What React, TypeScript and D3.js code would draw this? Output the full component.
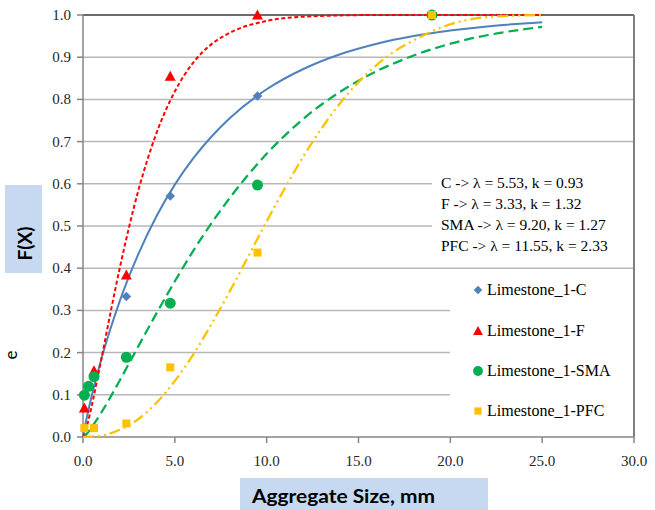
import React from 'react';
import * as d3 from 'd3';

// ---------- data ----------
const xTickValues = [0, 5, 10, 15, 20, 25, 30];
const yTickValues = [0, 0.1, 0.2, 0.3, 0.4, 0.5, 0.6, 0.7, 0.8, 0.9, 1.0];

const seriesNames = ['Limestone_1-C', 'Limestone_1-F', 'Limestone_1-SMA', 'Limestone_1-PFC'];
const fitLabels = [
  'C -> λ = 5.53, k = 0.93',
  'F -> λ = 3.33, k = 1.32',
  'SMA -> λ = 9.20, k = 1.27',
  'PFC -> λ = 11.55, k = 2.33',
];

// measured points (sieve size mm, fraction passing)
const sizeC = [2.36, 4.75, 9.5, 19];
const passC = [0.333, 0.571, 0.808, 1.0];
const sizeF = [0.075, 0.6, 2.36, 4.75, 9.5];
const passF = [0.069, 0.157, 0.384, 0.855, 1.0];
const sizeSMA = [0.075, 0.3, 0.6, 2.36, 4.75, 9.5, 19];
const passSMA = [0.099, 0.12, 0.143, 0.189, 0.317, 0.597, 1.0];
const sizePFC = [0.075, 0.6, 2.36, 4.75, 9.5, 19];
const passPFC = [0.021, 0.021, 0.032, 0.165, 0.437, 1.0];

// fitted curves
const fitX = [0, 0.1, 0.25, 0.5, 1, 1.5, 2, 3, 4, 5, 6, 7, 8, 10, 12, 14, 16, 18, 20, 22, 25];
const fitC = [0, 0.024, 0.055, 0.102, 0.185, 0.257, 0.322, 0.432, 0.523, 0.598, 0.66, 0.712, 0.756, 0.824, 0.872, 0.907, 0.932, 0.95, 0.963, 0.973, 0.983];
const fitF = [0, 0.01, 0.032, 0.079, 0.185, 0.295, 0.4, 0.582, 0.72, 0.819, 0.887, 0.931, 0.958, 0.986, 0.996, 0.999, 1.0, 1.0, 1.0, 1.0, 1.0];
const fitSMA = [0, 0.003, 0.01, 0.025, 0.058, 0.095, 0.134, 0.214, 0.293, 0.369, 0.441, 0.507, 0.567, 0.671, 0.754, 0.818, 0.867, 0.904, 0.932, 0.952, 0.972];
const fitXPFC = [0, 0.5, 1, 2, 3, 4, 5, 6, 7, 8, 9, 10, 11, 12, 13, 14, 15, 16, 17, 18, 20, 22, 25];
const fitPFC = [0, 0.001, 0.003, 0.017, 0.042, 0.081, 0.133, 0.195, 0.268, 0.346, 0.428, 0.511, 0.59, 0.665, 0.732, 0.791, 0.841, 0.882, 0.915, 0.94, 0.978, 0.995, 1.0];

// ---------- styles ----------
const BLUE = '#4F81BD';
const RED = '#FF0000';
const GREEN = '#00B050';
const YELLOW = '#FFC000';
const SERIF = '"Liberation Serif", "Times New Roman", serif';
const SANS = 'Lato, Calibri, "Liberation Sans", sans-serif';

const x = d3.scaleLinear().domain([0, 30]).range([83, 634]);
const y = d3.scaleLinear().domain([0, 1]).range([437, 15]);

const line = d3
  .line<[number, number]>()
  .x((d) => x(d[0]))
  .y((d) => y(d[1]))
  .curve(d3.curveMonotoneX);

const zip = (a: number[], b: number[]) => a.map((v, i) => [v, b[i]] as [number, number]);

const symDiamond = d3.symbol().type(d3.symbolDiamond2);
const triPath = (s: number) => `M0,${-s * 0.55}L${s * 0.55},${s * 0.45}L${-s * 0.55},${s * 0.45}Z`;

function Marker({ kind, cx, cy, small }: { kind: number; cx: number; cy: number; small?: boolean }) {
  const k = small ? 0.9 : 1;
  if (kind === 0)
    return <path d={symDiamond.size(58 * k * k)() as string} transform={`translate(${cx},${cy})`} fill={BLUE} />;
  if (kind === 1) return <path d={triPath(10 * k)} transform={`translate(${cx},${cy})`} fill={RED} />;
  if (kind === 2) return <circle cx={cx} cy={cy} r={5.5 * k} fill={GREEN} />;
  const s = 8 * k;
  return <rect x={cx - s / 2} y={cy - s / 2} width={s} height={s} fill={YELLOW} />;
}

export default function App() {
  const fits = [
    { d: zip(fitX, fitC), color: BLUE, dash: undefined, w: 2 },
    { d: zip(fitX, fitF), color: RED, dash: '4,2.5', w: 2 },
    { d: zip(fitX, fitSMA), color: GREEN, dash: '10,5', w: 2.25 },
    { d: zip(fitXPFC, fitPFC), color: YELLOW, dash: '11,4,2,4,2,4', w: 2.25 },
  ];
  const pts = [zip(sizeC, passC), zip(sizeF, passF), zip(sizeSMA, passSMA), zip(sizePFC, passPFC)];
  const legendY = [290, 331, 371, 411];

  return (
    <svg
      width={655}
      height={510}
      style={{ position: 'absolute', left: 0, top: 0, background: '#fff' }}
      xmlns="http://www.w3.org/2000/svg"
    >
      <rect x={0} y={0} width={655} height={510} fill="#fff" />
      {/* gridlines */}
      {yTickValues.slice(1, -1).map((v) => (
        <line key={v} x1={x(0)} x2={x(30)} y1={y(v)} y2={y(v)} stroke="#b7b7b7" strokeWidth={1.5} />
      ))}
      {/* plot border top/right */}
      <line x1={x(0)} x2={x(30)} y1={y(1)} y2={y(1)} stroke="#6b6b6b" strokeWidth={2} />
      <line x1={x(30)} x2={x(30)} y1={y(1)} y2={y(0)} stroke="#7f7f7f" strokeWidth={2} />

      {/* annotation box and legend box (white, hide gridlines) */}
      <rect x={432} y={170} width={201} height={88} fill="#fff" />
      <rect x={450} y={274} width={183} height={162} fill="#fff" />

      {/* axes */}
      <line x1={x(0)} x2={x(30)} y1={y(0)} y2={y(0)} stroke="#868686" strokeWidth={1.5} />
      <line x1={x(0)} x2={x(0)} y1={y(0)} y2={y(1)} stroke="#868686" strokeWidth={1.5} />
      {yTickValues.map((v) => (
        <g key={v}>
          <line x1={x(0) - 6} x2={x(0)} y1={y(v)} y2={y(v)} stroke="#868686" strokeWidth={1.5} />
          <text x={71} y={y(v) + 5} textAnchor="end" fontFamily={SERIF} fontSize={15} fill="#262626">
            {v.toFixed(1)}
          </text>
        </g>
      ))}
      {xTickValues.map((v) => (
        <g key={v}>
          <line x1={x(v)} x2={x(v)} y1={y(0)} y2={y(0) + 6} stroke="#868686" strokeWidth={1.5} />
          <text x={x(v)} y={466} textAnchor="middle" fontFamily={SERIF} fontSize={15} fill="#262626">
            {v.toFixed(1)}
          </text>
        </g>
      ))}

      {/* fitted curves */}
      {fits.map((f, i) => (
        <path
          key={i}
          d={line(f.d) as string}
          fill="none"
          stroke={f.color}
          strokeWidth={f.w}
          strokeDasharray={f.dash}
        />
      ))}

      {/* measured points */}
      {pts.map((s, i) =>
        s.map((p, j) => <Marker key={`${i}-${j}`} kind={i} cx={x(p[0])} cy={y(p[1])} />)
      )}

      {/* fit parameter annotation */}
      {fitLabels.map((t, i) => (
        <text key={t} x={441} y={188 + i * 21} fontFamily={SERIF} fontSize={15.5} fill="#000">
          {t}
        </text>
      ))}

      {/* legend */}
      {seriesNames.map((n, i) => (
        <g key={n}>
          <Marker kind={i} cx={478} cy={legendY[i]} small />
          <text x={487} y={legendY[i] + 5} fontFamily={SERIF} fontSize={16} fill="#000">
            {n}
          </text>
        </g>
      ))}

      {/* axis titles */}
      <rect x={5} y={185} width={37} height={88} fill="#C6D9F1" />
      <text
        transform="translate(32,243.5) rotate(-90)"
        textAnchor="middle"
        fontFamily={SANS}
        fontWeight="bold"
        fontSize={19}
        fill="#000"
      >
        F(X)
      </text>
      <rect x={240} y={478} width={248} height={35} fill="#C6D9F1" />
      <text
        x={252}
        y={503}
        fontFamily={SANS}
        fontWeight="bold"
        fontSize={19.5}
        textLength={183}
        lengthAdjust="spacingAndGlyphs"
        fill="#000"
      >
        Aggregate Size, mm
      </text>

      {/* fragment of an outside label */}
      <text
        transform="translate(17,355) rotate(-90)"
        textAnchor="middle"
        fontFamily={SANS}
        fontSize={17}
        fill="#000"
      >
        e
      </text>
    </svg>
  );
}
